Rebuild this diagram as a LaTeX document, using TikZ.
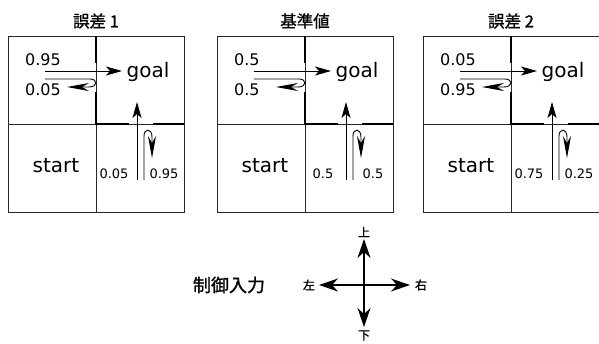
\documentclass[tikz,border=0pt]{standalone}
\usepackage{fontspec}
\setmainfont{DejaVu Sans}
\newfontfamily\cjk[FakeBold=1.2,BoldFont={Noto Sans CJK JP},BoldFeatures={FakeBold=1.2}]{Noto Sans CJK JP}
\usetikzlibrary{arrows.meta}
\tikzset{
 cellline/.style={line width=0.8pt, draw=black!85},
 wall/.style={line width=2pt},
 arr/.style={line width=0.9pt, -{Stealth[length=16pt,width=9pt,inset=4pt]}},
 hookarr/.style={line width=0.9pt, -{Stealth[length=22pt,width=8pt,inset=7pt]}},
 bigarr/.style={line width=1.1pt, {Stealth[length=19pt,width=13pt,inset=6pt]}-{Stealth[length=19pt,width=13pt,inset=6pt]}},
 big/.style={font=\fontsize{20}{20}\selectfont, inner sep=0pt},
 prob/.style={font=\fontsize{16}{16}\selectfont, inner sep=0pt},
 sprob/.style={font=\fontsize{13}{13}\selectfont, inner sep=0pt},
 ptitle/.style={font=\cjk\fontsize{16.5}{16.5}\selectfont, inner sep=0pt},
 dirlab/.style={font=\cjk\fontsize{12}{12}\selectfont, inner sep=0pt},
}
\newcommand\panel[7]{%
\begin{scope}[xshift=#2pt]
 \draw[cellline] (0,36) rectangle (176,212);
 \draw[cellline] (88,36) -- (88,212);
 \draw[cellline] (0,124) -- (176,124);
 \draw[wall] (88,36) -- (88,63) (88,92) -- (88,124) -- (121,124) (145,124) -- (176,124);
 \node[ptitle] (#1-title) at (88,21) {#3};
 \node[big] (#1-goal) at (140,72) {goal};
 \node[big] (#1-start) at (48,166) {start};
 \node[prob, anchor=west] (#1-p1) at (17,60) {#4};
 \node[prob, anchor=west] (#1-p2) at (17,90) {#5};
 \node[sprob] (#1-p3) at (106,174) {#6};
 \node[sprob] (#1-p4) at (156,174) {#7};
 \coordinate (#1-a0) at (37,71);
 \coordinate (#1-a1) at (114,71);
 \coordinate (#1-b0) at (37,79);
 \coordinate (#1-b1) at (59,87);
 \coordinate (#1-c0) at (129,180);
 \coordinate (#1-c1) at (129,102);
 \coordinate (#1-d0) at (136,180);
 \coordinate (#1-d1) at (144,158);
 \draw[arr] (#1-a0) -- (#1-a1);
 \draw[hookarr] (#1-b0) -- (82,79) .. controls (90,79) and (90,87) .. (81,87) -- (#1-b1);
 \draw[arr] (#1-c0) -- (#1-c1);
 \draw[hookarr] (#1-d0) -- (136,136) .. controls (136,128) and (144,128) .. (144,137) -- (#1-d1);
\end{scope}}
\begin{document}
\begin{tikzpicture}[x=1pt,y=-1pt]
\useasboundingbox (0,0) rectangle (599,343);
\panel{e1}{8}{\bfseries 誤差 1}{0.95}{0.05}{0.05}{0.95}
\panel{ref}{217}{\bfseries 基準値}{0.5}{0.5}{0.5}{0.5}
\panel{e2}{423}{\bfseries 誤差 2}{0.05}{0.95}{0.75}{0.25}
\node[font=\cjk\bfseries\fontsize{18}{18}\selectfont, inner sep=0pt] (ctl) at (229,285) {制御入力};
\node[dirlab] (up) at (364,232) {上};
\node[dirlab] (down) at (364,335.5) {下};
\node[dirlab] (left) at (309,285) {左};
\node[dirlab] (right) at (421,285) {右};
\coordinate (lt) at (319,285);
\coordinate (rt) at (410,285);
\coordinate (ut) at (364,239);
\coordinate (dt) at (364,327);
\draw[bigarr] (lt) -- (rt);
\draw[bigarr] (ut) -- (dt);
\end{tikzpicture}
\end{document}
